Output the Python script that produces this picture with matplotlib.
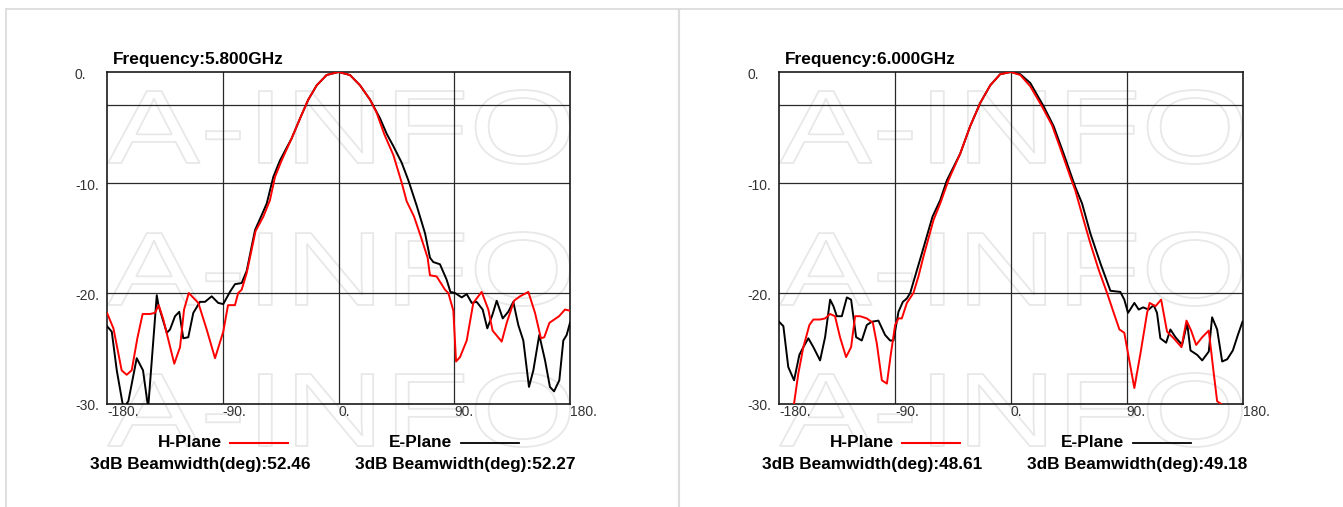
import matplotlib
matplotlib.use('Agg')
import matplotlib.pyplot as plt
from matplotlib.textpath import TextPath
from matplotlib.font_manager import FontProperties
from matplotlib.patches import PathPatch
from matplotlib.lines import Line2D
import matplotlib.transforms as mtransforms

# ---------------- data ----------------
titles = ["Frequency:5.800GHz", "Frequency:6.000GHz"]
h_beamwidth = ["52.46", "48.61"]
e_beamwidth = ["52.27", "49.18"]

x_ticks = [-180, -90, 0, 90, 180]
y_ticks = [0, -10, -20, -30]
grid_deg = [-90, 0, 90]
grid_db = [-3, -10, -20]

h58_deg = [-180, -175, -168.6, -164.7, -160.8, -156.4, -152.3, -146.6, -142.7, -139.8, -136.2, -127.7,
           -123.2, -120.1, -116.4, -109.0, -102.5, -96.0, -89.6, -85.9, -80.5, -78.0, -75.3, -71.4, -64.5,
           -58.5, -53.3, -49.4, -44.2, -36.4, -29.9, -23.5, -16.9, -9.2, 0, 8.9, 16.7, 24.5, 29.7,
           35.5, 42.6, 49.1, 53.0, 58.8, 64.0, 69.3, 71.1, 76.3, 82.8, 85.4, 89.3, 91.4, 94.5, 99.7,
           104.8, 111.3, 116.5, 119.8, 126.9, 130.8, 136.5, 141.1, 147.6, 152.8, 157.4, 160.0, 164.0,
           171.5, 176.1, 180]
h58_db = [-21.8, -23.2, -27.0, -27.4, -27.0, -24.1, -21.9, -21.9, -21.8, -21.1, -22.4, -26.4,
          -24.9, -21.5, -20.0, -20.9, -23.3, -25.9, -23.5, -21.1, -21.1, -20.0, -19.7, -18.2, -14.4,
          -13.1, -11.6, -9.5, -8.0, -6.0, -4.2, -2.5, -1.2, -0.27, 0, -0.27, -1.2, -2.5, -3.7,
          -5.6, -7.5, -10.0, -11.7, -13.1, -14.9, -16.8, -18.4, -18.5, -19.7, -20.0, -21.6, -26.2, -25.8, -24.3,
          -20.9, -19.9, -21.5, -23.4, -24.4, -22.7, -20.7, -20.3, -19.9, -21.8, -24.1, -24.0, -22.7,
          -22.1, -21.5, -21.6]

e58_deg = [-180, -176.3, -172.4, -167.3, -163.4, -156.9, -152.0, -148.0, -141.3, -140.0, -133.5, -131.0,
           -127.1, -123.8, -120.7, -116.8, -112.9, -107.7, -103.8, -98.6, -93.5, -89.6, -84.4, -80.5,
           -75.3, -71.4, -64.9, -60.3, -55.8, -50.7, -45.5, -36.4, -29.9, -23.5, -16.9, -9.2, 0, 8.9,
           16.7, 24.5, 32.3, 37.5, 42.6, 49.1, 54.3, 60.8, 67.3, 71.1, 73.7, 78.9, 84.1, 87.0, 90.6,
           95.8, 99.7, 103.6, 107.4, 112.1, 115.7, 119.6, 123.0, 127.7, 132.0, 135.9, 139.8, 143.7,
           148.1, 151.5, 156.1, 160.6, 164.4, 167.6, 171.7, 174.8, 177.4, 180]
e58_db = [-23.0, -23.5, -27.0, -30.4, -29.8, -25.9, -27.0, -30.4, -20.2, -21.1, -23.6, -23.3,
          -22.1, -21.7, -24.1, -24.0, -21.8, -20.8, -20.8, -20.3, -20.9, -21.0, -19.9, -19.2,
          -19.1, -18.0, -14.3, -13.1, -11.9, -9.5, -8.0, -6.0, -4.2, -2.5, -1.2, -0.27, 0, -0.27,
          -1.2, -2.5, -4.2, -5.6, -6.7, -8.2, -9.8, -12.1, -14.6, -16.8, -17.2, -17.4, -18.8, -19.9, -20.0,
          -20.4, -20.1, -20.9, -20.8, -21.5, -23.2, -22.0, -20.7, -22.3, -21.7, -20.8, -22.9, -24.3,
          -28.5, -27.0, -23.8, -26.1, -28.5, -28.9, -27.9, -24.3, -23.8, -22.7]

h60_deg = [-180, -168.3, -165.0, -161.1, -156.4, -153.3, -148.1, -144.2, -140.3, -136.5, -132.6, -127.9,
           -124.0, -120.9, -117.0, -111.8, -107.1, -104.0, -100.1, -96.2, -93.1, -89.8, -87.2, -84.6,
           -80.7, -75.6, -71.7, -67.8, -60.0, -54.8, -48.4, -39.3, -31.5, -23.7, -15.9, -8.2, 0, 7.4,
           15.2, 24.2, 32.0, 38.5, 46.3, 50.1, 56.6, 61.8, 68.3, 74.8, 80.0, 84.4, 88.2, 91.6, 96.0,
           100.7, 105.9, 107.9, 112.4, 116.8, 121.4, 126.6, 132.6, 136.5, 140.1, 144.0, 148.7, 153.8,
           157.7, 160.3, 164.2, 172.0, 180]
h60_db = [-33.5, -30.0, -27.3, -24.9, -22.9, -22.4, -22.4, -22.3, -21.9, -22.1, -24.0, -25.8,
          -24.9, -22.1, -22.1, -22.3, -22.7, -24.6, -27.9, -28.2, -25.5, -22.9, -22.3, -22.3,
          -20.9, -20.0, -18.5, -16.7, -13.4, -11.9, -9.8, -7.4, -4.9, -2.8, -1.2, -0.2, 0, -0.27,
          -1.3, -3.1, -4.8, -6.9, -9.5, -10.7, -13.4, -15.5, -17.9, -20.0, -21.8, -23.3, -23.6, -25.8, -28.6,
          -25.5, -21.8, -20.9, -21.2, -20.6, -23.5, -24.1, -24.9, -22.5, -23.4, -24.7, -24.0, -23.4,
          -27.3, -29.8, -30.1, -31.0, -31.0]

e60_deg = [-180, -176.6, -172.8, -168.3, -164.2, -161.1, -157.2, -153.3, -148.1, -144.2, -140.3, -137.7,
           -135.1, -131.2, -127.3, -124.0, -120.1, -115.7, -111.8, -107.9, -102.8, -97.6, -93.7, -91.1,
           -87.2, -83.8, -80.7, -78.1, -69.0, -60.8, -54.8, -49.6, -39.3, -31.5, -23.7, -15.9, -8.2, 0,
           7.4, 15.2, 25.5, 33.3, 41.1, 50.1, 55.4, 61.8, 69.6, 77.4, 85.1, 88.2, 91.1, 96.0, 99.4,
           102.8, 107.1, 111.0, 113.6, 116.2, 120.7, 124.0, 127.9, 133.1, 137.0, 139.6, 144.8, 148.7,
           153.8, 156.4, 160.3, 164.2, 168.1, 172.5, 176.4, 180]
e60_db = [-22.6, -23.0, -26.7, -27.9, -25.6, -24.9, -24.1, -24.9, -26.1, -24.0, -20.6, -21.2,
          -22.1, -22.1, -20.4, -20.6, -24.0, -24.3, -22.9, -22.6, -22.5, -23.8, -24.3, -24.3,
          -21.7, -20.8, -20.5, -20.0, -16.4, -13.1, -11.6, -9.8, -7.4, -4.9, -2.8, -1.2, -0.2, 0,
          -0.2, -1.0, -3.1, -4.9, -7.4, -10.4, -11.9, -14.6, -17.3, -19.8, -19.9, -20.6, -21.8, -20.9, -21.5,
          -21.3, -21.5, -21.1, -21.8, -24.1, -24.5, -23.3, -24.0, -24.7, -22.7, -25.2, -25.6, -26.1,
          -25.3, -22.2, -23.3, -26.2, -26.0, -25.2, -23.8, -22.6]

panels = [
    (titles[0], h58_deg, h58_db, e58_deg, e58_db, h_beamwidth[0], e_beamwidth[0]),
    (titles[1], h60_deg, h60_db, e60_deg, e60_db, h_beamwidth[1], e_beamwidth[1]),
]

# ---------------- layout ----------------
W, H = 1343, 507
fig = plt.figure(figsize=(W / 100, H / 100), dpi=100)
fig.patch.set_facecolor('white')

def fx(px):
    return px / W

def fy(py):
    return 1 - py / H

FONT = 'Liberation Sans'
bold_fp = dict(family=FONT, weight='bold', size=12.4)
tick_fp = dict(family=FONT, size=10)

# panel frame lines
frame_col = '#dcdcdc'
fig.add_artist(Line2D([fx(6), fx(W)], [fy(9), fy(9)], transform=fig.transFigure, color=frame_col, lw=1.3))
fig.add_artist(Line2D([fx(6), fx(6)], [fy(9), fy(H)], transform=fig.transFigure, color=frame_col, lw=1.3))
fig.add_artist(Line2D([fx(679), fx(679)], [fy(9), fy(H)], transform=fig.transFigure, color=frame_col, lw=1.6))

axes_left = [107, 779]
axes_right = [570, 1242.5]
ax_top, ax_bot = 72, 403.5

wm_fp = FontProperties(family=FONT)
wm_path = TextPath((0, 0), "A-INFO", size=1, prop=wm_fp)
wm_bb = wm_path.get_extents()

for i, (title, hd, hv, ed, ev, hbw, ebw) in enumerate(panels):
    L, R = axes_left[i], axes_right[i]
    ax = fig.add_axes([fx(L), fy(ax_bot), fx(R) - fx(L), fy(ax_top) - fy(ax_bot)])
    ax.set_facecolor('none')
    ax.set_xlim(-180, 180)
    ax.set_ylim(-30, 0)
    ax.set_xticks([])
    ax.set_yticks([])
    for s in ax.spines.values():
        s.set_color('#1a1a1a')
        s.set_linewidth(1.2)
    for g in grid_deg:
        ax.axvline(g, color='#2a2a2a', lw=0.9, zorder=1)
    for g in grid_db:
        ax.axhline(g, color='#2a2a2a', lw=0.9, zorder=1)

    ax.plot(ed, ev, color='black', lw=1.4, zorder=3)
    ax.plot(hd, hv, color='#ff0000', lw=1.4, zorder=4)

    # tick labels
    ytr = mtransforms.offset_copy(ax.transData, fig=fig, x=-32, y=-3, units='dots')
    for v in y_ticks:
        ax.text(-180, v, f"{v}.", transform=ytr, ha='left', va='center', color='#333333',
                clip_on=False, **tick_fp)
    xtr = mtransforms.offset_copy(ax.transData, fig=fig, x=0, y=-8, units='dots')
    for v in x_ticks:
        ax.text(v, -30, f"{v}.", transform=xtr, ha='left', va='center', color='#333333',
                clip_on=False, **tick_fp)

    # title
    fig.text(fx(L + 6), fy(64), title, ha='left', va='baseline', color='black', **bold_fp)

    # legend
    fig.text(fx(L + 50.7), fy(446.7), "H-Plane", ha='left', va='baseline', **bold_fp)
    fig.add_artist(Line2D([fx(L + 123), fx(L + 181)], [fy(443.3), fy(443.3)],
                          transform=fig.transFigure, color='#ff0000', lw=1.5))
    fig.text(fx(L - 17), fy(469.3), f"3dB Beamwidth(deg):{hbw}", ha='left', va='baseline', **bold_fp)
    fig.text(fx(L + 281.5), fy(446.7), "E-Plane", ha='left', va='baseline', **bold_fp)
    fig.add_artist(Line2D([fx(L + 354), fx(L + 412)], [fy(443.3), fy(443.3)],
                          transform=fig.transFigure, color='black', lw=1.3))
    fig.text(fx(L + 248), fy(469.3), f"3dB Beamwidth(deg):{ebw}", ha='left', va='baseline', **bold_fp)

    # watermark rows
    for top in [90, 232, 373]:
        x0, x1 = L + 1, L + 463
        y0, y1 = top, top + 74
        tr = (mtransforms.Affine2D()
              .translate(-wm_bb.x0, -wm_bb.y0)
              .scale((x1 - x0) / wm_bb.width, (y1 - y0) / wm_bb.height)
              .translate(x0, H - y1)
              .scale(1 / W, 1 / H)) + fig.transFigure
        patch = PathPatch(wm_path, transform=tr, facecolor='none', edgecolor='#e8e8e8',
                          lw=1.3, zorder=-5)
        fig.add_artist(patch)

fig.savefig('out.png', dpi=100, facecolor='white')
